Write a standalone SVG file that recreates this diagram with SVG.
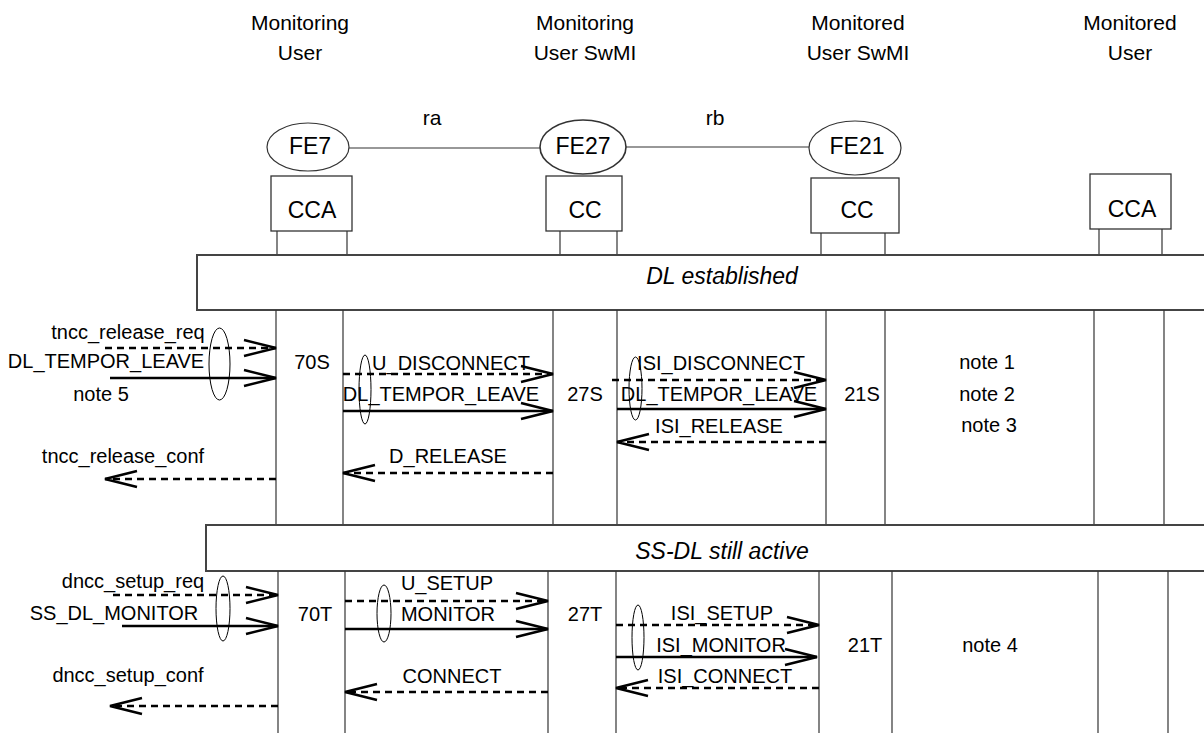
<svg xmlns="http://www.w3.org/2000/svg" width="1204" height="733" viewBox="0 0 1204 733">
<style>
text{font-family:"Liberation Sans",Arial,sans-serif;fill:#000}
.hd{font-size:21px;text-anchor:middle}
.lb{font-size:23px;text-anchor:middle}
.it{font-size:23px;font-style:italic;text-anchor:middle}
.m{font-size:20px;text-anchor:middle}
.thin{fill:none;stroke:#333;stroke-width:1.2}
.box{fill:#fff;stroke:#333;stroke-width:1.3}
.band{fill:#fff;stroke:#444;stroke-width:2}
.ll{stroke:#333;stroke-width:1.2;fill:none}
.sol{stroke:#000;stroke-width:2.5;fill:none;marker-end:url(#ah)}
.dsh{stroke:#000;stroke-width:2.5;fill:none;stroke-dasharray:7 5;marker-end:url(#ah)}
.el{fill:none;stroke:#000;stroke-width:1}
</style>
<defs>
<marker id="ah" markerUnits="userSpaceOnUse" markerWidth="40" markerHeight="24" viewBox="-36 -12 40 24" refX="0" refY="0" orient="auto">
<path d="M-32,-8 L0,0 L-32,8" fill="none" stroke="#000" stroke-width="2.5" stroke-dasharray="none"/>
</marker>
</defs>
<rect width="1204" height="733" fill="#fff"/>

<g id="headers">
<text class="hd" x="300" y="30">Monitoring</text>
<text class="hd" x="300" y="60">User</text>
<text class="hd" x="585" y="30">Monitoring</text>
<text class="hd" x="585" y="60">User SwMI</text>
<text class="hd" x="858" y="30">Monitored</text>
<text class="hd" x="858" y="60">User SwMI</text>
<text class="hd" x="1130" y="30">Monitored</text>
<text class="hd" x="1130" y="60">User</text>
<text class="hd" x="432" y="125">ra</text>
<text class="hd" x="715" y="125">rb</text>
</g>

<g id="links">
<line class="thin" x1="349" y1="148" x2="540" y2="148"/>
<line class="thin" x1="626" y1="147" x2="809" y2="147"/>
</g>

<g id="fe7"><ellipse class="thin" cx="308" cy="147" rx="41" ry="24"/><text class="lb" x="310" y="154">FE7</text></g>
<g id="fe27"><ellipse class="thin" cx="583" cy="147" rx="43" ry="27" style="stroke-width:1.6"/><text class="lb" x="583" y="154">FE27</text></g>
<g id="fe21"><ellipse class="thin" cx="855" cy="148" rx="46" ry="27"/><text class="lb" x="857" y="154">FE21</text></g>

<g id="cca1"><rect class="box" x="271" y="176" width="81" height="55"/><text class="lb" x="312" y="218">CCA</text>
<line class="ll" x1="277" y1="231" x2="277" y2="255"/><line class="ll" x1="347" y1="231" x2="347" y2="255"/></g>
<g id="cc2"><rect class="box" x="546" y="176" width="76" height="55"/><text class="lb" x="585" y="218">CC</text>
<line class="ll" x1="560" y1="231" x2="560" y2="255"/><line class="ll" x1="617" y1="231" x2="617" y2="255"/></g>
<g id="cc3"><rect class="box" x="811" y="178" width="88" height="55"/><text class="lb" x="857" y="218">CC</text>
<line class="ll" x1="821" y1="233" x2="821" y2="255"/><line class="ll" x1="885" y1="233" x2="885" y2="255"/></g>
<g id="cca4"><rect class="box" x="1090" y="174" width="81" height="55"/><text class="lb" x="1132" y="217">CCA</text>
<line class="ll" x1="1099" y1="229" x2="1099" y2="255"/><line class="ll" x1="1162" y1="229" x2="1162" y2="255"/></g>

<g id="dl-established"><rect class="band" x="197" y="255" width="1012" height="55"/><text class="it" x="722" y="284">DL established</text></g>

<g id="lifelines1">
<line class="ll" x1="276" y1="310" x2="276" y2="525"/>
<line class="ll" x1="343" y1="310" x2="343" y2="525"/>
<line class="ll" x1="553" y1="310" x2="553" y2="525"/>
<line class="ll" x1="617" y1="310" x2="617" y2="525"/>
<line class="ll" x1="826" y1="310" x2="826" y2="525"/>
<line class="ll" x1="885" y1="310" x2="885" y2="525"/>
<line class="ll" x1="1094" y1="310" x2="1094" y2="525"/>
<line class="ll" x1="1164" y1="310" x2="1164" y2="525"/>
</g>

<g id="ss-dl-active"><rect class="band" x="206" y="525" width="1003" height="46"/><text class="it" x="722" y="559">SS-DL still active</text></g>

<g id="lifelines2">
<line class="ll" x1="278" y1="571" x2="278" y2="733"/>
<line class="ll" x1="345" y1="571" x2="345" y2="733"/>
<line class="ll" x1="548" y1="571" x2="548" y2="733"/>
<line class="ll" x1="616" y1="571" x2="616" y2="733"/>
<line class="ll" x1="819" y1="571" x2="819" y2="733"/>
<line class="ll" x1="892" y1="571" x2="892" y2="733"/>
<line class="ll" x1="1098" y1="571" x2="1098" y2="733"/>
<line class="ll" x1="1168" y1="571" x2="1168" y2="733"/>
</g>

<g id="connectors">
<line class="dsh" x1="105" y1="348" x2="276" y2="348"/>
<line class="sol" x1="110" y1="378" x2="276" y2="378"/>
<line class="dsh" x1="276" y1="479" x2="105" y2="479"/>
<line class="dsh" x1="343" y1="374" x2="553" y2="374"/>
<line class="sol" x1="343" y1="411" x2="553" y2="411"/>
<line class="dsh" x1="553" y1="473" x2="343" y2="473"/>
<line class="dsh" x1="612" y1="380" x2="826" y2="380"/>
<line class="sol" x1="617" y1="409" x2="826" y2="409"/>
<line class="dsh" x1="826" y1="442" x2="617" y2="442"/>
<line class="dsh" x1="113" y1="595" x2="278" y2="595"/>
<line class="sol" x1="122" y1="626" x2="278" y2="626"/>
<line class="dsh" x1="278" y1="706" x2="110" y2="706"/>
<line class="dsh" x1="345" y1="601" x2="548" y2="601"/>
<line class="sol" x1="345" y1="629" x2="548" y2="629"/>
<line class="dsh" x1="548" y1="692" x2="345" y2="692"/>
<line class="dsh" x1="616" y1="625" x2="819" y2="625"/>
<line class="sol" x1="616" y1="657" x2="817" y2="657"/>
<line class="dsh" x1="819" y1="688" x2="616" y2="688"/>
<ellipse class="el" cx="219.5" cy="364" rx="10.5" ry="36"/>
<ellipse class="el" cx="365" cy="389.5" rx="6" ry="34.5"/>
<ellipse class="el" cx="635.5" cy="388.5" rx="6.5" ry="31.5"/>
<ellipse class="el" cx="223" cy="608.5" rx="7" ry="32.5"/>
<ellipse class="el" cx="384" cy="613.5" rx="7" ry="28.5"/>
<ellipse class="el" cx="638" cy="637.5" rx="6" ry="32.5"/>
</g>

<g id="labels">
<text class="m" x="128" y="339">tncc_release_req</text>
<text class="m" x="106" y="368">DL_TEMPOR_LEAVE</text>
<text class="m" x="101" y="401">note 5</text>
<text class="m" x="123" y="463">tncc_release_conf</text>
<text class="m" x="312" y="369">70S</text>
<text class="m" x="451" y="370">U_DISCONNECT</text>
<text class="m" x="441" y="401">DL_TEMPOR_LEAVE</text>
<text class="m" x="585" y="401">27S</text>
<text class="m" x="448" y="463">D_RELEASE</text>
<text class="m" x="721" y="370">ISI_DISCONNECT</text>
<text class="m" x="719" y="401">DL_TEMPOR_LEAVE</text>
<text class="m" x="862" y="401">21S</text>
<text class="m" x="719" y="433">ISI_RELEASE</text>
<text class="m" x="987" y="369">note 1</text>
<text class="m" x="987" y="401">note 2</text>
<text class="m" x="989" y="432">note 3</text>
<text class="m" x="133" y="588">dncc_setup_req</text>
<text class="m" x="114" y="620">SS_DL_MONITOR</text>
<text class="m" x="128" y="682">dncc_setup_conf</text>
<text class="m" x="315" y="621">70T</text>
<text class="m" x="447" y="590">U_SETUP</text>
<text class="m" x="448" y="621">MONITOR</text>
<text class="m" x="585" y="621">27T</text>
<text class="m" x="452" y="683">CONNECT</text>
<text class="m" x="722" y="620">ISI_SETUP</text>
<text class="m" x="721" y="652">ISI_MONITOR</text>
<text class="m" x="865" y="652">21T</text>
<text class="m" x="725" y="683">ISI_CONNECT</text>
<text class="m" x="990" y="652">note 4</text>
</g>
</svg>
